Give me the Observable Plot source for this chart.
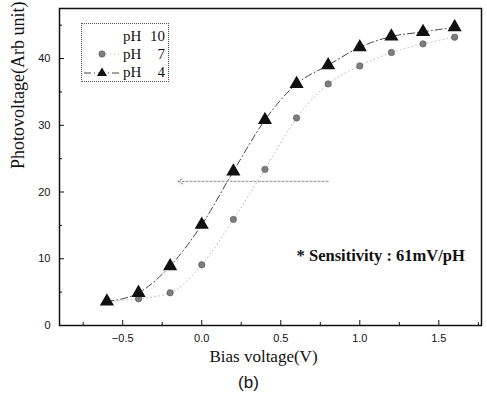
<!DOCTYPE html>
<html>
<head>
<meta charset="utf-8">
<script src="https://cdn.jsdelivr.net/npm/d3@7"></script>
<script src="https://cdn.jsdelivr.net/npm/@observablehq/plot@0.6"></script>
<style>
  html, body { margin: 0; padding: 0; background: #fff; }
  #wrap { position: relative; width: 487px; }
  #legend {
    position: absolute; left: 81px; top: 23px; width: 88px; height: 59px;
    border: 1px dotted #555; box-sizing: border-box;
    font-family: "Liberation Serif", "DejaVu Serif", serif; font-size: 15px; color: #111;
  }
  .row { position: absolute; left: 0; width: 88px; height: 18px; }
  .row svg { position: absolute; left: 0; top: 0; }
  .lab { position: absolute; left: 41px; width: 44px; line-height: 18px; }
  .lab .n { position: absolute; right: 2px; top: 0; }
  #cap { width: 487px; text-align: center; font-family: Arial, "Liberation Sans", sans-serif; font-size: 17px; line-height: 22px; padding-left: 10px; box-sizing: border-box; color: #111; }
</style>
</head>
<body>
<div id="wrap"></div>
<div id="cap">(b)</div>
<script>
// ---- data ----
const biasV = [-0.6, -0.4, -0.2, 0.0, 0.2, 0.4, 0.6, 0.8, 1.0, 1.2, 1.4, 1.6];
const pH4 = [3.6, 4.9, 8.9, 15.1, 23.1, 30.8, 36.2, 39.0, 41.7, 43.3, 44.0, 44.7];
const pH7 = [3.6, 4.0, 4.9, 9.1, 15.9, 23.4, 31.1, 36.2, 38.9, 40.9, 42.2, 43.2];
const legendLabels = ["pH 10", "pH 7", "pH 4"];
const xMajorTicks = [-0.5, 0.0, 0.5, 1.0, 1.5];
const xMinorTicks = [-0.75, -0.25, 0.25, 0.75, 1.25, 1.75];
const yMajorTicks = [0, 10, 20, 30, 40];
const yMinorTicks = [5, 15, 25, 35, 45];
const arrowX = [0.8, -0.15];
const arrowY = [21.6, 21.6];
const noteText = "* Sensitivity : 61mV/pH";

const tri = biasV.map((x, i) => ({x, y: pH4[i]}));
const cir = biasV.map((x, i) => ({x, y: pH7[i]}));
const arrowData = [{x1: arrowX[0], x2: arrowX[1], y1: arrowY[0], y2: arrowY[1]}];

const serif = "'Liberation Serif', 'DejaVu Serif', serif";

const chart = Plot.plot({
  width: 487,
  height: 372,
  marginLeft: 59,
  marginRight: 6,
  marginTop: 8,
  marginBottom: 47,
  style: {fontFamily: "Arial, 'Liberation Sans', sans-serif", fontSize: "11px", color: "#111", background: "#fff"},
  x: {domain: [-0.9, 1.77]},
  y: {domain: [0, 47.5]},
  marks: [
    Plot.frame({stroke: "#111", strokeWidth: 1.5}),
    Plot.axisX({ticks: xMajorTicks, tickSize: -5, tickPadding: 14, tickFormat: d3.format(".1f"), label: null, fontSize: 11}),
    Plot.axisX({ticks: xMinorTicks, tickSize: -3, text: null, label: null}),
    Plot.axisY({ticks: yMajorTicks, tickSize: -5, tickPadding: 14, label: null, fontSize: 11}),
    Plot.axisY({ticks: yMinorTicks, tickSize: -3, text: null, label: null}),
    Plot.line(cir, {x: "x", y: "y", stroke: "#bbb", strokeWidth: 1, strokeDasharray: "1,3", curve: "monotone-x"}),
    Plot.line(tri, {x: "x", y: "y", stroke: "#444", strokeWidth: 1, strokeDasharray: "7,3,1,3", curve: "monotone-x"}),
    Plot.arrow(arrowData, {x1: "x1", y1: "y1", x2: "x2", y2: "y2", stroke: "#888", strokeWidth: 1, strokeDasharray: "2,2", headLength: 8, bend: 0}),
    Plot.dot(cir, {x: "x", y: "y", r: 3.2, fill: "#7d7d7d", stroke: "#555", strokeWidth: 0.6}),
    Plot.dot(tri, {x: "x", y: "y", symbol: "triangle", r: 4.3, fill: "#111", stroke: "#111"}),
    Plot.text([noteText], {x: 0.6, y: 10.5, text: d => d, textAnchor: "start", fontFamily: serif, fontWeight: "bold", fontSize: 16.5, fill: "#111"}),
    Plot.text(["Bias voltage(V)"], {frameAnchor: "bottom", dx: -7, dy: 36, text: d => d, fontFamily: serif, fontSize: 17, fill: "#111"}),
    Plot.text(["Photovoltage(Arb unit)"], {frameAnchor: "left", dx: -41, dy: 2, rotate: -90, text: d => d, fontFamily: serif, fontSize: 18, fill: "#111"})
  ]
});

const wrap = document.getElementById("wrap");
wrap.appendChild(chart);

// legend overlay
const legend = document.createElement("div");
legend.id = "legend";
const rowsTop = [3, 21, 39];
legendLabels.forEach((lab, i) => {
  const row = document.createElement("div");
  row.className = "row";
  row.style.top = rowsTop[i] + "px";
  let sym = "";
  if (i === 1) {
    sym = `<line x1="24" x2="40" y1="9" y2="9" stroke="#bbb" stroke-dasharray="1,3"/><circle cx="20" cy="9" r="3.2" fill="#7d7d7d" stroke="#555" stroke-width="0.6"/>`;
  } else if (i === 2) {
    sym = `<line x1="2" x2="40" y1="10" y2="10" stroke="#444" stroke-dasharray="7,3,1,3"/><path d="M20,4.5L25,13L15,13Z" fill="#111"/>`;
  }
  const parts = lab.split(" ");
  row.innerHTML = `<svg width="42" height="18">${sym}</svg><div class="lab"><span>${parts[0]}</span><span class="n">${parts[1]}</span></div>`;
  legend.appendChild(row);
});
wrap.appendChild(legend);
</script>
</body>
</html>
